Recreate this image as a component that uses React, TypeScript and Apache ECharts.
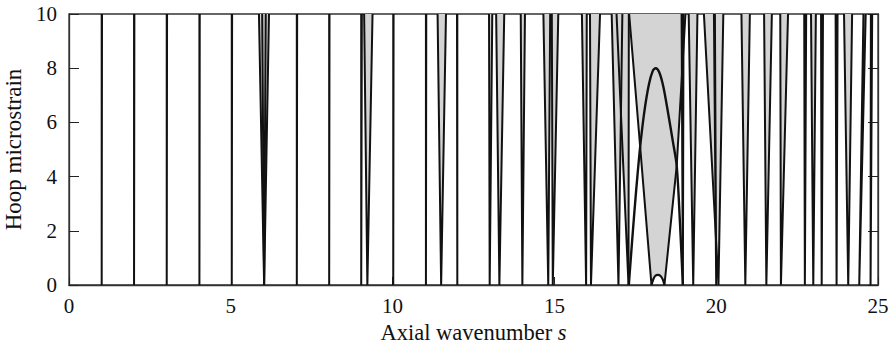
import React, { useEffect, useRef } from "react";
import * as echarts from "echarts";

// Instability tongues: base point (s at y = baseY) and the s positions of the two edges at y = 10
const tongueBase = [1.01, 2.01, 3.02, 4.03, 5.03, 6.03, 6.03, 7.04, 8.04, 9.03, 9.22, 10.02, 11.03, 11.5, 12.0, 13.0, 13.3, 14.01, 14.81, 14.95, 15.98, 16.13, 16.98, 17.29, 18.97, 19.29, 20.0, 20.07, 20.9, 21.55, 22.0, 22.74, 23.0, 23.26, 23.72, 24.08, 24.42, 24.77];
const tongueBaseY = [0, 0, 0, 0, 0, 0, 0, 0, 0, 0, 0, 0, 0, 0, 0, 0, 0, 0, 0, 0, 0, 0, 0, 0, 0, 0, 0, 0, 0, 0, 0, 0, 0, 0, 0, 0, 0, 0];
const tongueTopLeft = [1.01, 2.01, 3.02, 4.03, 5.03, 5.87, 5.97, 7.04, 8.04, 9.03, 9.12, 10.02, 11.03, 11.39, 11.99, 12.98, 13.2, 13.96, 14.66, 14.92, 15.85, 16.1, 16.77, 16.92, 18.93, 19.15, 19.93, 19.62, 20.78, 21.48, 21.98, 22.72, 22.93, 23.24, 23.69, 23.95, 24.55, 24.78];
const tongueTopRight = [1.02, 2.02, 3.03, 4.04, 5.04, 6.18, 6.08, 7.05, 8.05, 9.05, 9.38, 10.03, 11.04, 11.65, 12.0, 13.08, 13.45, 14.09, 14.87, 15.12, 16.0, 16.41, 17.1, 17.3, 18.99, 19.42, 19.96, 20.22, 21.04, 21.72, 22.22, 22.78, 23.08, 23.3, 23.75, 24.2, 24.62, 24.82];

// Large unstable zone between lines A and B (above the small bump)
const zoneS = [17.31, 17.65, 18.0, 18.06, 18.12, 18.2, 18.28, 18.35, 18.4, 18.78, 19.05];
const zoneY = [10, 5.1, 0, 0.22, 0.34, 0.37, 0.33, 0.2, 0, 4.4, 10];

// Boundary lines of the large zone
const lineAS = [17.31, 17.65, 18.0];
const lineAY = [10, 5.1, 0];
const lineBS = [18.4, 18.78, 19.05];
const lineBY = [0, 4.4, 10];

// Arch curve
const archS = [17.3, 17.4, 17.52, 17.65, 17.78, 17.92, 18.04, 18.13, 18.24, 18.37, 18.52, 18.66, 18.78, 18.88, 18.97];
const archY = [0, 1.6, 3.4, 5.1, 6.4, 7.4, 7.9, 8.0, 7.85, 7.3, 6.3, 5.3, 4.4, 2.3, 0];

// Small bump at the bottom
const bumpS = [18.0, 18.06, 18.12, 18.2, 18.28, 18.35, 18.4];
const bumpY = [0, 0.22, 0.34, 0.37, 0.33, 0.2, 0];

const S_MIN = 0;
const S_MAX = 25;
const S_STEP = 5;
const Y_MIN = 0;
const Y_MAX = 10;
const Y_STEP = 2;

const FONT = '"Liberation Serif", "Times New Roman", serif';
const GRAY = "#d4d4d4";
const INK = "#111";

export default function App() {
  const ref = useRef<HTMLDivElement>(null);

  useEffect(() => {
    document.body.style.margin = "0";
    if (!ref.current) return;
    const chart = echarts.init(ref.current, undefined, { renderer: "svg" });

    const tongues = tongueBase.map((b, i) => [b, tongueBaseY[i], tongueTopLeft[i], tongueTopRight[i]]);
    const toPts = (s: number[], y: number[]) => s.map((v, i) => [v, y[i]]);

    const lineSeries = (name: string, data: number[][], smooth: boolean | number, width: number) => ({
      name,
      type: "line",
      data,
      showSymbol: false,
      smooth,
      clip: true,
      lineStyle: { color: INK, width },
      silent: true,
    });

    const option: any = {
      animation: false,
      grid: {
        left: 69,
        right: 15,
        top: 14,
        bottom: 63,
        containLabel: false,
        outerBoundsMode: "none",
        show: true,
        borderColor: "#333",
        borderWidth: 1.3,
      },
      xAxis: {
        type: "value",
        min: S_MIN,
        max: S_MAX,
        interval: S_STEP,
        axisLine: { show: true, lineStyle: { color: "#333", width: 1.3 } },
        axisTick: { show: true, inside: true, length: 8, lineStyle: { color: "#222" } },
        axisLabel: { fontSize: 21, fontFamily: FONT, color: INK, margin: 10 },
        splitLine: { show: false },
        name: "{a|Axial wavenumber }{b|s}",
        nameLocation: "middle",
        nameGap: 35,
        nameTextStyle: {
          fontSize: 22.5,
          fontFamily: FONT,
          color: INK,
          rich: {
            a: { fontSize: 22.5, fontFamily: FONT, color: INK },
            b: { fontSize: 22.5, fontFamily: FONT, color: INK, fontStyle: "italic" },
          },
        },
      },
      yAxis: [
        {
          type: "value",
          min: Y_MIN,
          max: Y_MAX,
          interval: Y_STEP,
          axisLine: { show: true, lineStyle: { color: "#333", width: 1.3 } },
          axisTick: { show: true, inside: true, length: 10, lineStyle: { color: "#222" } },
          axisLabel: { fontSize: 21, fontFamily: FONT, color: INK, margin: 12 },
          splitLine: { show: false },
          name: "Hoop microstrain",
          nameLocation: "middle",
          nameGap: 42,
          nameTextStyle: { fontSize: 23, fontFamily: FONT, color: INK },
        },
        {
          type: "value",
          position: "right",
          min: Y_MIN,
          max: Y_MAX,
          interval: Y_STEP,
          axisLine: { show: true, lineStyle: { color: "#333", width: 1.3 } },
          axisTick: { show: true, inside: true, length: 10, lineStyle: { color: "#222" } },
          axisLabel: { show: false },
          splitLine: { show: false },
        },
      ],
      series: [
        {
          name: "zoneFill",
          type: "custom",
          data: [[zoneS[0], zoneY[0]]],
          encode: { x: 0, y: 1 },
          clip: true,
          silent: true,
          renderItem: (_p: any, api: any) => ({
            type: "polygon",
            shape: { points: zoneS.map((s, i) => api.coord([s, zoneY[i]])) },
            style: { fill: GRAY },
          }),
        },
        {
          name: "tongueFill",
          type: "custom",
          data: tongues,
          encode: { x: [0, 2, 3], y: 1 },
          clip: true,
          silent: true,
          renderItem: (_p: any, api: any) => {
            const b = api.coord([api.value(0), api.value(1)]);
            const l = api.coord([api.value(2), Y_MAX]);
            const r = api.coord([api.value(3), Y_MAX]);
            return { type: "polygon", shape: { points: [l, b, r] }, style: { fill: GRAY } };
          },
        },
        {
          name: "tongueLines",
          type: "custom",
          data: tongues,
          encode: { x: [0, 2, 3], y: 1 },
          clip: true,
          silent: true,
          renderItem: (_p: any, api: any) => {
            const b = api.coord([api.value(0), api.value(1)]);
            const l = api.coord([api.value(2), Y_MAX]);
            const r = api.coord([api.value(3), Y_MAX]);
            return {
              type: "polyline",
              shape: { points: [l, b, r] },
              style: { stroke: INK, lineWidth: 2, fill: null, lineJoin: "miter" },
            };
          },
        },
        lineSeries("lineA", toPts(lineAS, lineAY), false, 2),
        lineSeries("lineB", toPts(lineBS, lineBY), false, 2),
        lineSeries("arch", toPts(archS, archY), 0.3, 2.4),
        lineSeries("bump", toPts(bumpS, bumpY), 0.3, 2.2),
      ],
    };

    chart.setOption(option);
    return () => chart.dispose();
  }, []);

  return (
    <div
      ref={ref}
      style={{ position: "absolute", left: 0, top: 0, width: 893, height: 348, background: "#fff" }}
    />
  );
}
